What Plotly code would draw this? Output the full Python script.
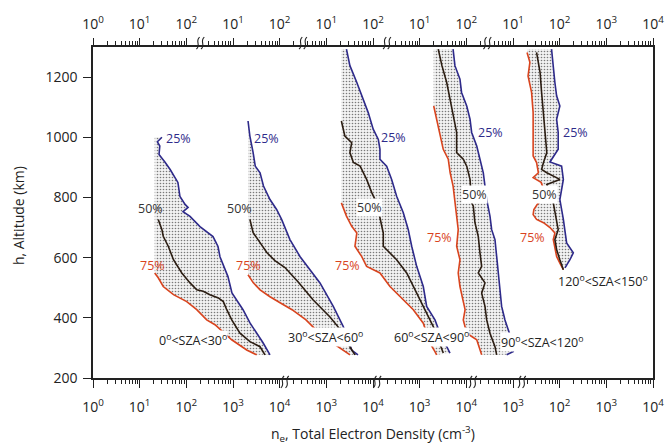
import math
import plotly.graph_objects as go

FONT = "Open Sans, Liberation Sans, sans-serif"
BLUE = "#2E2A8A"
RED = "#D9441E"
DARK = "#2B1D12"
AX = "#222222"

# ---------------- tick labels ----------------
bottom_ticktext = ["10<sup>0</sup>", "10<sup>1</sup>", "10<sup>2</sup>", "10<sup>3</sup>", "10<sup>4</sup>",
                   "10<sup>3</sup>", "10<sup>4</sup>", "10<sup>3</sup>", "10<sup>4</sup>", "10<sup>3</sup>",
                   "10<sup>2</sup>", "10<sup>3</sup>", "10<sup>4</sup>"]
top_ticktext = ["10<sup>0</sup>", "10<sup>1</sup>", "10<sup>2</sup>", "10<sup>1</sup>", "10<sup>2</sup>",
                "10<sup>1</sup>", "10<sup>2</sup>", "10<sup>1</sup>", "10<sup>2</sup>", "10<sup>1</sup>",
                "10<sup>2</sup>", "10<sup>3</sup>", "10<sup>4</sup>"]
ytick_vals = [200, 400, 600, 800, 1000, 1200]

sza_labels = ["0<sup>o</sup>&lt;SZA&lt;30<sup>o</sup>", "30<sup>o</sup>&lt;SZA&lt;60<sup>o</sup>",
              "60<sup>o</sup>&lt;SZA&lt;90<sup>o</sup>", "90<sup>o</sup>&lt;SZA&lt;120<sup>o</sup>",
              "120<sup>o</sup>&lt;SZA&lt;150<sup>o</sup>"]

# ---------------- data: altitude (km) and density (cm^-3) ----------------
# Panel 1: 0-30 deg
p1_q25_alt = [1000, 985, 971, 943, 917, 893, 850, 803, 777, 767, 753, 737, 703, 670, 637, 603, 537, 483, 427, 383, 317, 277]
p1_q25_ne = [30, 24, 27, 26, 35, 45, 66, 73, 94, 109, 85, 120, 196, 373, 477, 526, 780, 950, 1640, 2310, 4400, 6200]
p1_q50_alt = [727, 693, 671, 638, 593, 549, 516, 493, 488, 477, 466, 454, 427, 393, 349, 321, 304, 277]
p1_q50_ne = [25, 30, 32, 41, 53, 80, 120, 167, 230, 320, 485, 620, 735, 940, 1410, 2310, 3790, 4850]
p1_q75_alt = [549, 533, 504, 477, 454, 427, 393, 377, 327, 293, 277]
p1_q75_ne = [21, 25, 32, 53, 102, 167, 273, 411, 938, 1965, 3218]

# Panel 2: 30-60 deg
p2_q25_alt = [1054, 1004, 949, 904, 882, 838, 793, 760, 727, 660, 604, 516, 438, 371, 327, 293, 277]
p2_q25_ne = [21, 23, 27, 30, 38, 45, 62, 86, 110, 166, 272, 731, 1409, 2307, 2951, 3491, 4766]
p2_q50_alt = [727, 683, 650, 617, 590, 567, 520, 460, 403, 350, 303, 277]
p2_q50_ne = [23, 27, 38, 53, 79, 130, 247, 518, 1197, 2275, 3213, 4111]
p2_q75_alt = [543, 517, 493, 470, 450, 427, 393, 360, 327, 300, 277]
p2_q75_ne = [21, 27, 38, 62, 102, 184, 366, 600, 1084, 1962, 3213]

# Panel 3: 60-90 deg
p3_q25_alt = [1293, 1238, 1182, 1138, 1082, 1027, 993, 960, 927, 904, 860, 804, 749, 693, 638, 571, 504, 438, 393, 349, 316, 283]
p3_q25_ne = [27, 32, 45, 57, 79, 101, 130, 141, 141, 196, 251, 321, 446, 570, 675, 863, 1195, 1413, 2128, 2723, 3483, 4467]
p3_q50_alt = [1054, 1004, 982, 949, 916, 904, 860, 816, 782, 727, 682, 638, 616, 593, 549, 504, 460, 416, 371, 327, 283]
p3_q50_ne = [21, 25, 35, 32, 38, 53, 73, 94, 120, 141, 166, 166, 231, 321, 527, 730, 1016, 1413, 1959, 2506, 3206]
p3_q75_alt = [782, 738, 704, 682, 638, 604, 571, 549, 504, 471, 427, 382, 349, 316, 288, 277]
p3_q75_ne = [21, 27, 35, 45, 41, 57, 73, 141, 231, 378, 730, 1195, 1413, 1663, 2128, 2312]

# Panel 4: 90-120 deg
p4_q25_alt = [1293, 1238, 1193, 1149, 1104, 1060, 1016, 971, 927, 882, 838, 793, 738, 693, 660, 604, 549, 493, 438, 393, 360, 327, 288, 277]
p4_q25_ne = [52, 57, 73, 79, 102, 120, 130, 167, 196, 231, 251, 273, 321, 349, 411, 447, 483, 526, 571, 673, 793, 935, 1014, 731]
p4_q50_alt = [1293, 1238, 1182, 1127, 1071, 1016, 949, 927, 904, 860, 782, 771, 716, 671, 616, 571, 549, 516, 482, 438, 393, 349, 304, 277]
p4_q50_ne = [25, 30, 38, 45, 52, 62, 62, 86, 102, 120, 130, 141, 153, 180, 196, 213, 180, 251, 213, 251, 273, 321, 411, 447]
p4_q75_alt = [1104, 1060, 1016, 960, 927, 882, 838, 793, 738, 693, 638, 593, 549, 504, 460, 427, 393, 349, 327, 288, 277]
p4_q75_ne = [20, 23, 27, 32, 41, 45, 52, 57, 62, 67, 62, 73, 67, 73, 86, 94, 86, 102, 167, 196, 213]

# Panel 5: 120-150 deg
p5_q25_alt = [1293, 1227, 1182, 1138, 1104, 1060, 1016, 960, 933, 918, 904, 860, 793, 727, 649, 616, 593, 566]
p5_q25_ne = [67, 73, 79, 86, 101, 86, 93, 93, 73, 62, 110, 120, 101, 120, 141, 196, 166, 130]
p5_q50_alt = [1282, 1216, 1149, 1082, 1016, 949, 916, 893, 882, 860, 843, 817, 782, 749, 716, 693, 660, 627, 593, 560]
p5_q50_ne = [32, 38, 41, 45, 48, 53, 45, 41, 53, 101, 53, 62, 73, 79, 86, 93, 79, 86, 101, 120]
p5_q75_alt = [1282, 1249, 1204, 1149, 1082, 1016, 938, 916, 882, 866, 850, 800, 780, 760, 743, 727, 716, 700, 682, 660, 627, 604, 582, 560]
p5_q75_ne = [20, 23, 21, 25, 27, 27, 27, 32, 35, 27, 40, 53, 34, 28, 27, 32, 45, 62, 79, 73, 79, 86, 101, 120]

panels = [
    (p1_q25_ne, p1_q25_alt, p1_q50_ne, p1_q50_alt, p1_q75_ne, p1_q75_alt),
    (p2_q25_ne, p2_q25_alt, p2_q50_ne, p2_q50_alt, p2_q75_ne, p2_q75_alt),
    (p3_q25_ne, p3_q25_alt, p3_q50_ne, p3_q50_alt, p3_q75_ne, p3_q75_alt),
    (p4_q25_ne, p4_q25_alt, p4_q50_ne, p4_q50_alt, p4_q75_ne, p4_q75_alt),
    (p5_q25_ne, p5_q25_alt, p5_q50_ne, p5_q50_alt, p5_q75_ne, p5_q75_alt),
]

fig = go.Figure()

# ---------------- curves, one hidden log axis per panel ----------------
for k, (n25, a25, n50, a50, n75, a75) in enumerate(panels):
    xa = "x%d" % (k + 3)
    poly_x = list(n25) + list(n75[::-1]) + [n75[0]]
    poly_y = list(a25) + list(a75[::-1]) + [a25[0]]
    fig.add_trace(go.Scatter(x=poly_x, y=poly_y, xaxis=xa, yaxis="y", mode="lines",
                             fill="toself", fillcolor="#eeeeee", line=dict(width=0),
                             fillpattern=dict(shape=".", fgcolor="#000000", bgcolor="#f2f2f2",
                                              size=3, solidity=0.22),
                             hoverinfo="skip"))
    fig.add_trace(go.Scatter(x=n75, y=a75, xaxis=xa, yaxis="y", mode="lines",
                             line=dict(color=RED, width=1.6)))
    fig.add_trace(go.Scatter(x=n25, y=a25, xaxis=xa, yaxis="y", mode="lines",
                             line=dict(color=BLUE, width=1.6)))
    fig.add_trace(go.Scatter(x=n50, y=a50, xaxis=xa, yaxis="y", mode="lines",
                             line=dict(color=DARK, width=1.6)))

# ---------------- minor ticks and axis breaks ----------------
bottom_breaks = [4.11, 6.09, 8.14, 9.19]
top_breaks = [2.3, 4.5, 6.3, 8.45]
minor_all = [i + math.log10(m) for i in range(12) for m in range(2, 10)]
minor_bottom = [v for v in minor_all if all(abs(v - b) > 0.1 for b in bottom_breaks)]
minor_top = [v for v in minor_all if all(abs(v - b) > 0.1 for b in top_breaks)]


def s_curve(px, yb, yt):
    w = 0.07
    h = yt - yb
    return "M %.4f,%.4f C %.4f,%.4f %.4f,%.4f %.4f,%.4f" % (
        px - w / 2, yb, px + w, yb + h * 0.35, px - w, yb + h * 0.65, px + w / 2, yt)


shapes = []
for b in bottom_breaks:
    for off in (-0.05, 0.05):
        shapes.append(dict(type="path", xref="x", yref="paper", path=s_curve(b + off, -0.03, 0.006),
                           line=dict(color=AX, width=1.1)))
for b in top_breaks:
    for off in (-0.05, 0.05):
        shapes.append(dict(type="path", xref="x", yref="paper", path=s_curve(b + off, 0.994, 1.03),
                           line=dict(color=AX, width=1.1)))

# ---------------- text labels ----------------
def dec(px):
    return (px - 93) / 46.67

pct_labels = [
    # (x_px, alt, text, color, white background)
    (179, 996, "25%", BLUE, False), (150, 763, "50%", "#333333", False), (152, 574, "75%", RED, False),
    (267, 996, "25%", BLUE, False), (240, 763, "50%", "#333333", False), (249, 574, "75%", RED, False),
    (394, 1000, "25%", BLUE, False), (370, 767, "50%", "#333333", True), (348, 573, "75%", RED, False),
    (491, 1017, "25%", BLUE, False), (475, 810, "50%", "#333333", True), (440, 667, "75%", RED, False),
    (576, 1017, "25%", BLUE, False), (545, 810, "50%", "#333333", True), (533, 667, "75%", RED, False),
]
sza_pos = [(193, 327), (326, 337), (432, 337), (542, 320), (603, 523)]

annotations = []
for xp, alt, txt, col, bg in pct_labels:
    annotations.append(dict(x=dec(xp), y=alt, xref="x", yref="y", text=txt, showarrow=False,
                            xanchor="center", yanchor="middle",
                            font=dict(family=FONT, size=12.5, color=col),
                            bgcolor="white" if bg else "rgba(0,0,0,0)", borderpad=0))
for (xp, alt), txt in zip(sza_pos, sza_labels):
    annotations.append(dict(x=dec(xp), y=alt, xref="x", yref="y", text=txt, showarrow=False,
                            xanchor="center", yanchor="middle",
                            font=dict(family=FONT, size=12.5, color="#222222"),
                            bgcolor="white", borderpad=0))
annotations.append(dict(x=0.5, y=-0.169, xref="paper", yref="paper", showarrow=False,
                        xanchor="center", yanchor="middle",
                        text="n<sub>e</sub>, Total Electron Density (cm<sup>-3</sup>)",
                        font=dict(family=FONT, size=14, color="#222222")))
annotations.append(dict(x=-0.134, y=0.492, xref="paper", yref="paper", showarrow=False, textangle=-90,
                        xanchor="center", yanchor="middle",
                        text="h, Altitude (km)", font=dict(family=FONT, size=14, color="#222222")))

common_x = dict(range=[0, 12], tickmode="array", tickvals=list(range(13)), showline=True,
                linecolor=AX, linewidth=1.5, ticks="outside", tickcolor=AX, tickwidth=1.2,
                showgrid=False, zeroline=False, automargin=False,
                tickfont=dict(family=FONT, size=14, color="#222222"))

layout = dict(
    width=667, height=448, margin=dict(l=93, r=14, t=47, b=70, autoexpand=False),
    paper_bgcolor="white", plot_bgcolor="white", showlegend=False,
    xaxis=dict(common_x, ticktext=bottom_ticktext, ticklen=8, ticklabelstandoff=7,
               minor=dict(tickvals=minor_bottom, ticklen=4, tickwidth=1, tickcolor=AX, ticks="outside", showgrid=False)),
    xaxis2=dict(common_x, ticktext=top_ticktext, ticklen=7, overlaying="x", side="top", anchor="y",
                ticklabelstandoff=4,
                minor=dict(tickvals=minor_top, ticklen=4, tickwidth=1, tickcolor=AX, ticks="outside", showgrid=False)),
    yaxis=dict(range=[200, 1300], tickmode="array", tickvals=ytick_vals, ticks="outside", ticklen=8,
               tickcolor=AX, tickwidth=1.2, showline=True, linecolor=AX, linewidth=1.5, mirror=True,
               showgrid=False, zeroline=False, automargin=False,
               tickfont=dict(family=FONT, size=14, color="#222222"), ticklabelstandoff=3),
    shapes=shapes, annotations=annotations,
)
for k in range(5):
    layout["xaxis%d" % (k + 3)] = dict(type="log", overlaying="x", anchor="y", visible=False,
                                       automargin=False, range=[-2 * k, 12 - 2 * k])

# invisible marker on top axis so it renders
fig.add_trace(go.Scatter(x=[0], y=[200], xaxis="x2", yaxis="y", mode="markers",
                         marker=dict(opacity=0), hoverinfo="skip"))
fig.update_layout(**layout)
# remove the default page margin so the 667x448 figure fills the window exactly
fig.write_html("out.html", config={"displayModeBar": False},
               post_script="document.body.style.margin='0';document.body.style.overflow='hidden';")
